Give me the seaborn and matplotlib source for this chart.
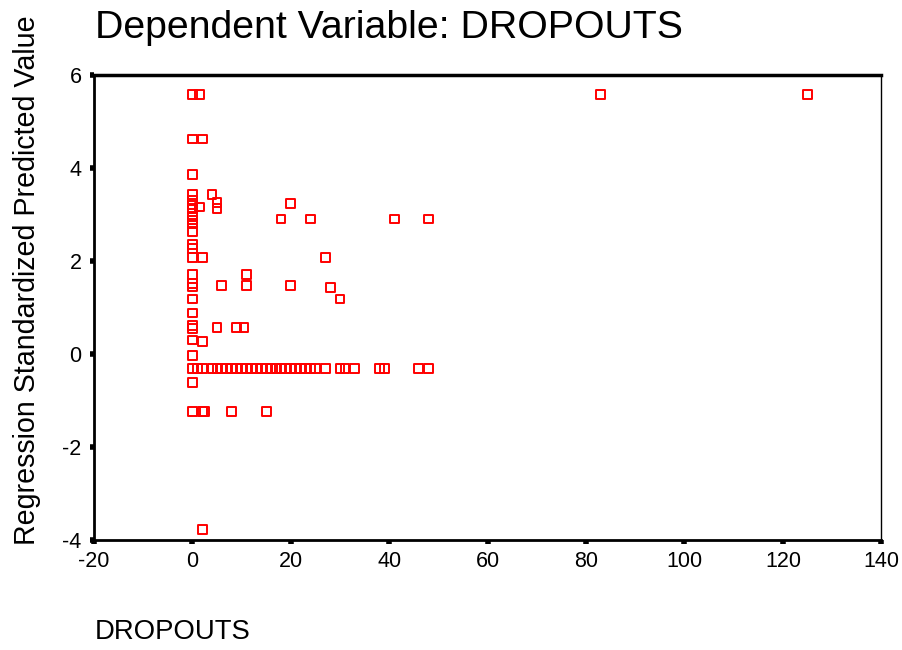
import numpy as np
import pandas as pd
import matplotlib
matplotlib.use('Agg')
import matplotlib.pyplot as plt
import seaborn as sns

dropouts = [
    0, 1.5, 83, 125,
    0, 2,
    0,
    0, 4,
    0, 0, 0, 1.5, 5, 5, 20,
    0, 0, 0, 18, 24, 41, 48,
    0,
    0, 0, 0, 2, 27,
    0, 11,
    0, 0, 6, 11, 20, 28,
    0, 30,
    0,
    0, 0, 5, 9, 10.5,
    0, 2,
    0,
    0, 1, 2, 4, 5, 6, 7, 8, 9, 10, 11, 12, 13, 14, 15, 16, 17, 18, 19,
    20, 21, 22, 23, 24, 25, 27, 30, 31, 33, 38, 39, 46, 48,
    0,
    0, 2, 2.5, 8, 15,
    2,
]
predicted = [
    5.57, 5.57, 5.57, 5.57,
    4.62, 4.62,
    3.85,
    3.42, 3.42,
    3.30, 3.20, 3.12, 3.16, 3.25, 3.12, 3.24,
    2.95, 2.88, 2.80, 2.90, 2.90, 2.90, 2.90,
    2.63,
    2.35, 2.27, 2.07, 2.07, 2.07,
    1.70, 1.70,
    1.52, 1.44, 1.47, 1.47, 1.47, 1.43,
    1.18, 1.18,
    0.88,
    0.62, 0.55, 0.57, 0.57, 0.57,
    0.30, 0.27,
    -0.03,
    -0.32, -0.32, -0.32, -0.32, -0.32, -0.32, -0.32, -0.32, -0.32, -0.32,
    -0.32, -0.32, -0.32, -0.32, -0.32, -0.32, -0.32, -0.32, -0.32,
    -0.32, -0.32, -0.32, -0.32, -0.32, -0.32, -0.32, -0.32, -0.32, -0.32,
    -0.32, -0.32, -0.32, -0.32,
    -0.62,
    -1.24, -1.24, -1.24, -1.24, -1.24,
    -3.77,
]
x_ticks = [-20, 0, 20, 40, 60, 80, 100, 120, 140]
y_ticks = [-4, -2, 0, 2, 4, 6]

df = pd.DataFrame({'DROPOUTS': dropouts, 'pred': predicted})

sns.set_style('white')
plt.rcParams['font.family'] = ['Liberation Sans', 'DejaVu Sans']
plt.rcParams['axes.unicode_minus'] = False
plt.rcParams['text.color'] = 'black'

fig = plt.figure(figsize=(9.03, 6.5), dpi=100)
ax = fig.add_axes([0.104, 0.169, 0.872, 0.716])

sns.scatterplot(data=df, x='DROPOUTS', y='pred', ax=ax, marker='s', s=40,
                color='red', linewidth=1.4, legend=False)
pts = ax.collections[0]
pts.set_facecolor('none')
pts.set_edgecolor('#ff0000')

ax.set_xlim(-20, 140)
ax.set_ylim(-4, 6)
ax.set_xticks(x_ticks)
ax.set_yticks(y_ticks)
ax.set_xlabel('')
ax.set_ylabel('')
ax.tick_params(axis='both', direction='out', length=3, width=4,
               bottom=True, left=True, top=False, right=False,
               color='black', labelsize=15.5, labelcolor='black')
ax.tick_params(axis='x', pad=5)
ax.tick_params(axis='y', pad=6)

for side, lw in [('top', 2.5), ('left', 2), ('bottom', 2), ('right', 1)]:
    ax.spines[side].set_visible(True)
    ax.spines[side].set_color('black')
    ax.spines[side].set_linewidth(lw)

fig.text(95 / 903, 1 - 28 / 650, 'Dependent Variable: DROPOUTS', fontsize=28.3,
         ha='left', va='center', color='black')
fig.text(95 / 903, 1 - 632 / 650, 'DROPOUTS', fontsize=19.8,
         ha='left', va='center', color='black')
fig.text(27 / 903, 1 - 280 / 650, 'Regression Standardized Predicted Value',
         fontsize=20.6, rotation=90, ha='center', va='center', color='black')

fig.savefig('out.png', dpi=100)
